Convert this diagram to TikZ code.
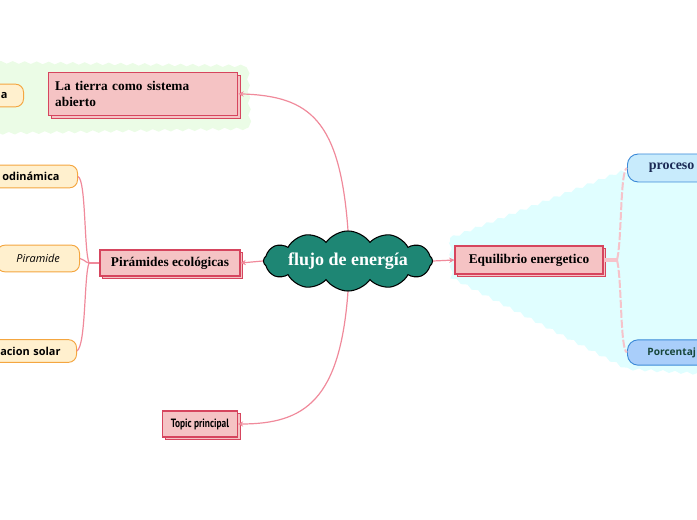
\documentclass[tikz,border=0pt]{standalone}
\usepackage{fontspec}
\setmainfont{Liberation Serif}
\newfontfamily\osans{Open Sans}
\newfontfamily\condf[FakeStretch=0.78]{PT Sans}
\usetikzlibrary{shapes.symbols,decorations.pathmorphing,arrows.meta,shadows}
\definecolor{pinkfill}{HTML}{F5C3C4}
\definecolor{pinkborder}{HTML}{D6455E}
\definecolor{connpink}{HTML}{F08A9B}
\definecolor{lightconn}{HTML}{F6C3CA}
\definecolor{cloudfill}{HTML}{1E8674}
\definecolor{orfill}{HTML}{FFF0CE}
\definecolor{orborder}{HTML}{F4A640}
\definecolor{greenbg}{HTML}{EBFCE6}
\definecolor{cyanbg}{HTML}{E0FEFF}
\definecolor{bluefillA}{HTML}{C8EBFC}
\definecolor{bluefillB}{HTML}{A9CEFA}
\definecolor{blueborder}{HTML}{3C8AD8}
\definecolor{navytext}{HTML}{1B2A55}
\definecolor{greentext}{HTML}{17463A}
\tikzset{
  mainbox/.style={draw=pinkborder, fill=pinkfill, line width=0.8pt,
    copy shadow={shadow xshift=2.2pt, shadow yshift=-2.2pt},
    font=\bfseries\fontsize{10}{11.5}\selectfont, text=black},
  childbox/.style={draw=orborder, fill=orfill, line width=0.7pt, rounded corners=6pt,
    font=\osans\bfseries\fontsize{8.2}{9}\selectfont, text=black},
  bluebox/.style={draw=blueborder, line width=0.7pt, rounded corners=8pt},
  conn/.style={draw=connpink, line width=0.9pt},
  arr/.style={-{Stealth[length=4pt,width=4pt]}},
  blob/.style={decorate, decoration={snake, amplitude=1pt, segment length=9pt}},
}
\begin{document}
\begin{tikzpicture}[x=0.75pt,y=-0.75pt]
\useasboundingbox (0,0) rectangle (697,520);
\clip (0,0) rectangle (697,520);
% background blobs
\fill[greenbg, blob] (-15,62) -- (244,66) -- (246,126) -- (-15,131) -- cycle;
\fill[cyanbg, blob] (450,238) -- (620,172) -- (715,174) -- (715,380) -- (625,374) -- (452,284) -- cycle;

% central cloud
\node[cloud, cloud puffs=12, cloud puff arc=110, aspect=4.4, draw=black, line width=0.8pt,
  fill=cloudfill, minimum width=126pt, minimum height=28pt, inner sep=0pt, text=white,
  font=\bfseries\fontsize{13.5}{15}\selectfont] (center) at (348,261) {flujo de energía};

% main topics
\node[mainbox, minimum width=142pt, minimum height=32pt, text width=132pt, inner xsep=5pt, align=left, anchor=north west] (tierra) at (48,72) {La tierra como sistema\\abierto};
\node[mainbox, minimum width=105pt, minimum height=19.5pt] (pir) at (170,263) {Pirámides ecológicas};
\node[mainbox, minimum width=56pt, minimum height=19.5pt, font=\condf\bfseries\fontsize{9}{10}\selectfont] (topic) at (200,424) {Topic principal};
\node[mainbox, minimum width=111pt, minimum height=21pt] (equi) at (529,260) {Equilibrio energetico};

% left children
\node[childbox, anchor=east, minimum height=17pt, text width=40pt, inner xsep=12pt, align=right] (achild) at (24,95.5) {a};
\node[childbox, anchor=east, minimum height=17pt, text width=80pt, inner xsep=13.5pt, align=right] (odin) at (78,176.5) {odinámica};
\node[childbox, anchor=east, minimum height=20pt, minimum width=62pt, font=\osans\itshape\fontsize{8.2}{9}\selectfont] (piram) at (80,258.5) {Piramide};
\node[childbox, anchor=east, minimum height=17pt, text width=80pt, inner xsep=12pt, align=right] (solar) at (77,351) {acion solar};

% right children
\node[bluebox, fill=bluefillA, anchor=west, minimum height=21pt, text width=100pt, inner xsep=16pt, align=left,
  text=navytext, font=\bfseries\fontsize{10.5}{12}\selectfont] (proc) at (627,168) {proceso};
\node[bluebox, fill=bluefillB, anchor=west, minimum height=19pt, text width=100pt, inner xsep=15pt, align=left,
  text=greentext, font=\osans\bfseries\fontsize{7.6}{9}\selectfont] (porc) at (627,352.5) {Porcentaj};

% connectors from centre
\draw[conn, arr] (center.north) .. controls (340,120) and (310,96) .. (tierra.east);
\draw[conn, arr] (center.south) .. controls (340,400) and (305,424) .. (topic.east);
\draw[conn, arr] (center.west) -- (pir.east);
\draw[conn, arr] (center.east) -- (equi.west);

% pir children
\coordinate (pj) at (89,263);
\draw[conn] (pir.west) -- (pj);
\draw[conn] (pj) .. controls (84,250) and (86,180) .. (odin.east);
\draw[conn] (pj) .. controls (84,262) and (84,258.5) .. (piram.east);
\draw[conn] (pj) .. controls (84,276) and (86,345) .. (solar.east);

% equilibrio children
\coordinate (ej) at (617,260);
\draw[draw=lightconn, line width=3pt] (equi.east) -- (ej);
\draw[draw=lightconn, line width=1.5pt, dash pattern=on 6pt off 1.5pt] (ej) .. controls (622,240) and (620,170) .. (proc.west);
\draw[draw=lightconn, line width=1.5pt, dash pattern=on 6pt off 1.5pt] (ej) .. controls (622,280) and (620,350) .. (porc.west);
\end{tikzpicture}
\end{document}
